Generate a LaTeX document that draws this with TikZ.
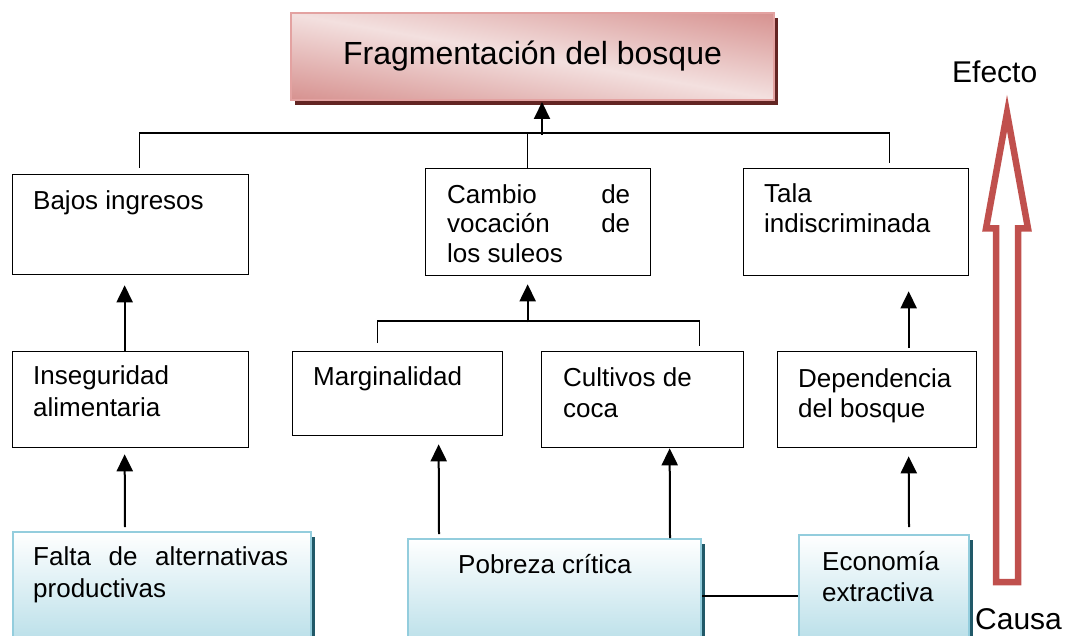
\documentclass[tikz,border=0pt]{standalone}
\usepackage{fontspec}
\setmainfont{Liberation Sans}
\usetikzlibrary{arrows.meta,calc,shadows}
\definecolor{pinkD}{HTML}{D6908E}
\definecolor{pinkL}{HTML}{F3E0DF}
\definecolor{pinkB}{HTML}{E3A2A1}
\definecolor{pinkS}{HTML}{632523}
\definecolor{blueL}{HTML}{B7DEE8}
\definecolor{blueB}{HTML}{93CDDD}
\definecolor{blueS}{HTML}{215968}
\definecolor{arrRed}{HTML}{C0504D}
\begin{document}
\begin{tikzpicture}[x=1pt,y=-1pt,
  box/.style={draw=black, line width=1.3pt, rectangle, inner sep=0pt, anchor=north west},
  bluebox/.style={draw=blueB, line width=2pt, rectangle, inner sep=0pt, anchor=north west,
    top color=white, bottom color=blueL,
    drop shadow={shadow xshift=3.5pt, shadow yshift=-5pt, fill=blueS, opacity=1}},
  topbox/.style={draw=pinkB, line width=2pt, rectangle, inner sep=0pt, anchor=north west,
    fill=pinkL,
    drop shadow={shadow xshift=4pt, shadow yshift=-5pt, fill=pinkS, opacity=1},
    path picture={
      \shade[top color=pinkD, bottom color=pinkD, middle color=pinkL,
        transform canvas={rotate around={-10:(path picture bounding box.center)}}]
        ($(path picture bounding box.center)+(-320,-86)$) rectangle
        ($(path picture bounding box.center)+(320,86)$);
    }},
  txt/.style={inner sep=0pt, anchor=base west, align=left, font=\fontsize{26pt}{31pt}\selectfont},
  big/.style={inner sep=0pt, anchor=base west, font=\fontsize{30pt}{36pt}\selectfont},
  ln/.style={line width=1.5pt},
  arr/.style={line width=2pt, -{Triangle[length=17pt,width=16pt]}}
]
\useasboundingbox (0,0) rectangle (1075,636);
\clip (0,0) rectangle (1075,636);

% boxes
\node[topbox, minimum width=483pt, minimum height=87pt,
  font=\fontsize{32pt}{38pt}\selectfont, text height=23pt, text depth=7pt] (frag) at (290,12) {Fragmentación del bosque};
\node[box, minimum width=236pt, minimum height=100pt] (bajos) at (12,174) {};
\node[box, minimum width=225pt, minimum height=107pt] (cambio) at (425,168) {};
\node[box, minimum width=225pt, minimum height=107pt] (tala) at (743,168) {};
\node[box, minimum width=236pt, minimum height=96pt] (inseg) at (12,351) {};
\node[box, minimum width=210pt, minimum height=84pt] (marg) at (292,351) {};
\node[box, minimum width=202pt, minimum height=96pt] (cult) at (541,351) {};
\node[box, minimum width=199pt, minimum height=96pt] (dep) at (777,351) {};
\node[bluebox, minimum width=298pt, minimum height=115pt] (falta) at (12,531) {};
\node[bluebox, minimum width=293pt, minimum height=110pt] (pob) at (407,538) {};
\node[bluebox, minimum width=170pt, minimum height=110pt] (eco) at (798,534) {};

% texts (base anchor = baseline of the last line)
\node[txt] (bajosT) at (33,210) {Bajos ingresos};
\node[txt, font=\fontsize{26pt}{29.5pt}\selectfont] (cambioT) at (447,262)
  {\makebox[183pt][s]{Cambio de}\\\makebox[183pt][s]{vocación de}\\los suleos};
\node[txt, font=\fontsize{26pt}{30pt}\selectfont] (talaT) at (764,233) {Tala\\indiscriminada};
\node[txt, font=\fontsize{26pt}{32pt}\selectfont] (insegT) at (33,416) {Inseguridad\\alimentaria};
\node[txt] (margT) at (313,385) {Marginalidad};
\node[txt] (cultT) at (563,417) {Cultivos de\\coca};
\node[txt, font=\fontsize{26pt}{30pt}\selectfont] (depT) at (798,417) {Dependencia\\del bosque};
\node[txt, font=\fontsize{26pt}{32pt}\selectfont] (faltaT) at (33,597)
  {\makebox[255pt][s]{Falta de alternativas}\\productivas};
\node[txt] (pobT) at (458,573) {Pobreza crítica};
\node[txt] (ecoT) at (822,601) {Economía\\extractiva};
\node[big] (efecto) at (952,83) {Efecto};
\node[big] (causa) at (975,629) {Causa};

% connectors: top tree
\draw[ln] ($(bajos.north)+(9,-6)$) |- ($(tala.north)+(33.5,-35)$) -- ($(tala.north)+(33.5,-5)$);
\draw[ln] ($(cambio.north)+(-10.5,0)$) -- ($(cambio.north)+(-10.5,-35)$);
\draw[arr] ($(frag.south)+(9.5,34)$) -- ($(frag.south)+(9.5,1)$);
% middle tree
\draw[ln] ($(marg.north)+(-20,-8)$) |- ($(cult.north)+(57,-30)$) -- ($(cult.north)+(57,-5)$);
\draw[arr] ($(cambio.south)+(-10.5,46)$) -- ($(cambio.south)+(-10.5,8)$);
% vertical arrows
\draw[arr] ($(inseg.north)+(-6,0)$) -- ($(bajos.south)+(-6,10)$);
\draw[arr] ($(dep.north)+(31.5,-3)$) -- ($(tala.south)+(52.5,15)$);
\draw[arr] ($(falta.north)+(-37,-4)$) -- ($(inseg.south)+(-6,6)$);
\draw[arr] ($(pob.north)+(-115.5,-4)$) -- ($(marg.south)+(41,8)$);
\draw[arr] ($(pob.north)+(115.5,0)$) -- ($(cult.south)+(27,0)$);
\draw[arr] ($(eco.north)+(25,-7)$) -- ($(dep.south)+(31.5,8)$);
\draw[ln] ($(pob.north east)+(0,58)$) -- ($(eco.north west)+(0,62)$);

% cause-effect hollow arrow
\draw[draw=arrRed, line width=6.5pt, line join=miter, miter limit=10]
  (1007,113) -- (1028,228.5) -- (1018,228.5) -- (1018,582) -- (996,582) -- (996,228.5) -- (986,228.5) -- cycle;
\end{tikzpicture}
\end{document}
